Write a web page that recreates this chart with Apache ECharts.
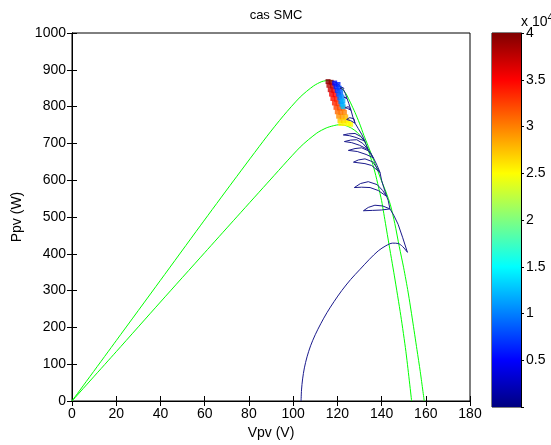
<!DOCTYPE html>
<html>
<head>
<meta charset="utf-8">
<script src="https://cdn.jsdelivr.net/npm/echarts@6/dist/echarts.min.js"></script>
<style>
html,body{margin:0;padding:0;background:#fff;}
#c{width:551px;height:445px;}
</style>
</head>
<body>
<div id="c"></div>
<script>
// ---- data ----
var xTicks = [0,20,40,60,80,100,120,140,160,180];
var yTicks = [0,100,200,300,400,500,600,700,800,900,1000];
var cbTicks = [0.5,1,1.5,2,2.5,3,3.5,4];

// P-V curve, higher irradiance (green)
var upperV = [0,20,40,58,73,88,95.6,103.2,109.2,113,116,118,120,122,124,126,128,130,132,134,136,138,140,142,144,146,148,150,152,154,156,157.5,159.3];
var upperP = [0,164,328,476,598,718,775,826,856,868,871,869,863,850,834,810,784,755,722,692,661,630,598,568,533,482,420,362,296,220,140,80,0];

// P-V curve, lower irradiance (green)
var lowerV = [0,20,40,60,73,88,103.2,110.7,115,118.2,121.2,124,126.5,129,131,133,135,137,138.6,140,141,143.1,145.8,148.7,151,153.6];
var lowerP = [0,134,269,403,490,590,690,728,742,748,751,748,741,730,716,697,663,622,582,545,510,435,340,232,135,0];

// operating point: start-up rise (dark blue)
var riseV = [103.6,103.8,104.3,105.1,106.3,107.9,110,112.5,115.3,118.5,122,126,130.3,134.5,138.5,142,145,147.5,149.5,151.7];
var riseP = [0,30,60,90,120,150,180,210,240,270,300,330,358,385,408,422,429,428,420,404];

// operating point: oscillations towards the maximum (dark blue)
var oscV = [151.7,149.5,147.5,145.5,143.8,
  140,136,131.8,134,137,140.5,143.8,
  143,142.3,
  138.5,134.8,131,127.7,130.5,134,138,140.5,142.3,
  141,140,139.3,
  135.5,132.5,127.3,129.5,132.5,136,139.3,
  138,136.3,
  133,129,125,128,131,134,136.3,
  135,134,
  130,126.5,123.2,126,128.8,131.5,134,
  133,132.5,
  128.5,125.5,122.7,125,128,130.5,132.5,
  131,129.5,128,
  126,124.2,125.5,127.5,128,
  127,126.2,124.6,123.6,125,126.2,
  125.2,124.4,123,122.2,123.6,124.4,
  123.6,122.8,121.2,122.6,123];
var oscP = [404,445,480,505,522,
  519,518,517,526,532,530,522,
  545,556,
  572,580,581,580,591,596,588,572,556,
  580,600,621,
  640,645,649,655,658,650,621,
  640,661,
  670,678,681,686,688,680,661,
  675,683,
  695,702,705,709,710,700,683,
  697,706,
  716,721,723,726,727,719,706,
  725,740,755,
  762,765,770,767,755,
  772,790,795,797,800,790,
  808,822,826,828,830,822,
  836,846,850,852,848];

// coloured scatter near the maximum power point (colour = time, x 10^4)
var bandV = [115.8,116.2,116.8,117.4,118,118.7,119.4,120,120.6,121.2,121.6,
  117.2,117.8,118.4,119,119.6,120.3,121,121.6,122.2,122.8,123.4,
  122.6,123.2,123.8,124.4,125,126,
  118.8,119.4,120,120.6,121.1,121.6,122.1,122.6,
  120.3,120.9,121.5,122,122.5];
var bandP = [868,858,846,834,822,810,798,786,774,762,754,
  866,856,844,832,820,808,796,784,772,762,754,
  796,784,772,762,754,752,
  864,854,844,834,824,814,806,800,
  860,850,838,826,815];
var bandT = [40000,38000,37000,35500,34500,33500,32500,31000,29500,27500,25500,
  39000,37500,36000,35000,34000,33000,32000,30500,29000,27000,25500,
  31500,30000,28000,26500,25000,25000,
  5000,6000,7000,8000,9000,10000,11000,12500,
  6000,7500,9000,10500,12000];

// ---- build series data from the arrays ----
function pairs(a,b){ return a.map(function(v,i){ return [v,b[i]]; }); }
var upperData = pairs(upperV, upperP);
var lowerData = pairs(lowerV, lowerP);
var riseData = pairs(riseV, riseP);
var oscData = pairs(oscV, oscP);
var bandData = bandV.map(function(v,i){ return [v, bandP[i], bandT[i]]; });

var jet = ['#000080','#0000ff','#0080ff','#00ffff','#80ff80','#ffff00','#ff8000','#ff0000','#800000'];
var FONT = '"Liberation Sans", Arial, Helvetica, sans-serif';
var txt = {color:'#000', fontSize:14, fontFamily:FONT};
var plain = function(v){ return String(v); };

var chart = echarts.init(document.getElementById('c'), null, {renderer:'canvas'});
var axLine = {show:true, lineStyle:{color:'#000', width:1}};
var tickIn = {show:true, inside:true, length:5, lineStyle:{color:'#000'}};

chart.setOption({
  animation:false,
  backgroundColor:'#fff',
  title:{text:'cas SMC', left:271, top:4, textAlign:'center',
    textStyle:{color:'#000', fontSize:13, fontWeight:'normal', fontFamily:FONT}},
  grid:[
    {left:72, top:33, width:398, height:374, show:true, borderColor:'#000', borderWidth:1, backgroundColor:'#fff'},
    {left:492, top:33, width:29, height:374, show:true, borderColor:'#000', borderWidth:1}
  ],
  xAxis:[
    {gridIndex:0, type:'value', min:xTicks[0], max:xTicks[xTicks.length-1], interval:20,
     axisLine:axLine, axisTick:tickIn, splitLine:{show:false},
     axisLabel:Object.assign({margin:6, formatter:plain}, txt),
     name:'Vpv (V)', nameLocation:'middle', nameGap:25, nameTextStyle:txt},
    {gridIndex:0, type:'value', position:'top', min:xTicks[0], max:xTicks[xTicks.length-1], interval:20,
     axisLine:axLine, axisTick:tickIn, splitLine:{show:false}, axisLabel:{show:false}},
    {gridIndex:1, type:'category', data:[''], show:false, boundaryGap:true}
  ],
  yAxis:[
    {gridIndex:0, type:'value', min:yTicks[0], max:yTicks[yTicks.length-1], interval:100,
     axisLine:axLine, axisTick:tickIn, splitLine:{show:false},
     axisLabel:Object.assign({margin:6, formatter:plain}, txt),
     name:'Ppv (W)', nameLocation:'middle', nameGap:36, nameTextStyle:txt},
    {gridIndex:0, type:'value', position:'right', min:yTicks[0], max:yTicks[yTicks.length-1], interval:100,
     axisLine:axLine, axisTick:tickIn, splitLine:{show:false}, axisLabel:{show:false}},
    {gridIndex:1, type:'value', position:'right', min:0, max:cbTicks[cbTicks.length-1], interval:0.5,
     axisLine:axLine, axisTick:{show:true, inside:false, length:3, lineStyle:{color:'#000'}},
     splitLine:{show:false},
     axisLabel:Object.assign({margin:5, formatter:function(v){ return v===0 ? '' : String(v); }}, txt)}
  ],
  visualMap:[{
    type:'continuous', show:false, seriesIndex:4, dimension:2, min:0, max:40000,
    inRange:{color:jet}
  }],
  graphic:[{
    type:'text', left:521, top:13,
    style:{text:'x 10{s|4}', fill:'#000', font:'14px '+FONT,
      rich:{s:{fontSize:10, verticalAlign:'top', padding:[0,0,8,0], fontFamily:FONT}}}
  }],
  series:[
    {type:'line', xAxisIndex:0, yAxisIndex:0, data:upperData, showSymbol:false, smooth:0.25,
     lineStyle:{color:'#00ff00', width:1}, z:2},
    {type:'line', xAxisIndex:0, yAxisIndex:0, data:lowerData, showSymbol:false, smooth:0.25,
     lineStyle:{color:'#00ff00', width:1}, z:2},
    {type:'line', xAxisIndex:0, yAxisIndex:0, data:riseData, showSymbol:false, smooth:0.3,
     lineStyle:{color:'#1a1a8c', width:1}, z:4},
    {type:'line', xAxisIndex:0, yAxisIndex:0, data:oscData, showSymbol:false, smooth:false,
     lineStyle:{color:'#1a1a8c', width:1}, z:4},
    {type:'scatter', xAxisIndex:0, yAxisIndex:0, data:bandData, symbol:'rect', symbolSize:5, z:3},
    {type:'bar', xAxisIndex:2, yAxisIndex:2, data:[cbTicks[cbTicks.length-1]], barWidth:'100%',
     itemStyle:{color:new echarts.graphic.LinearGradient(0,0,0,1,[
       {offset:0, color:'#800000'},{offset:0.125, color:'#ff0000'},{offset:0.375, color:'#ffff00'},
       {offset:0.625, color:'#00ffff'},{offset:0.875, color:'#0000ff'},{offset:1, color:'#000080'}])}}
  ]
});
</script>
</body>
</html>
